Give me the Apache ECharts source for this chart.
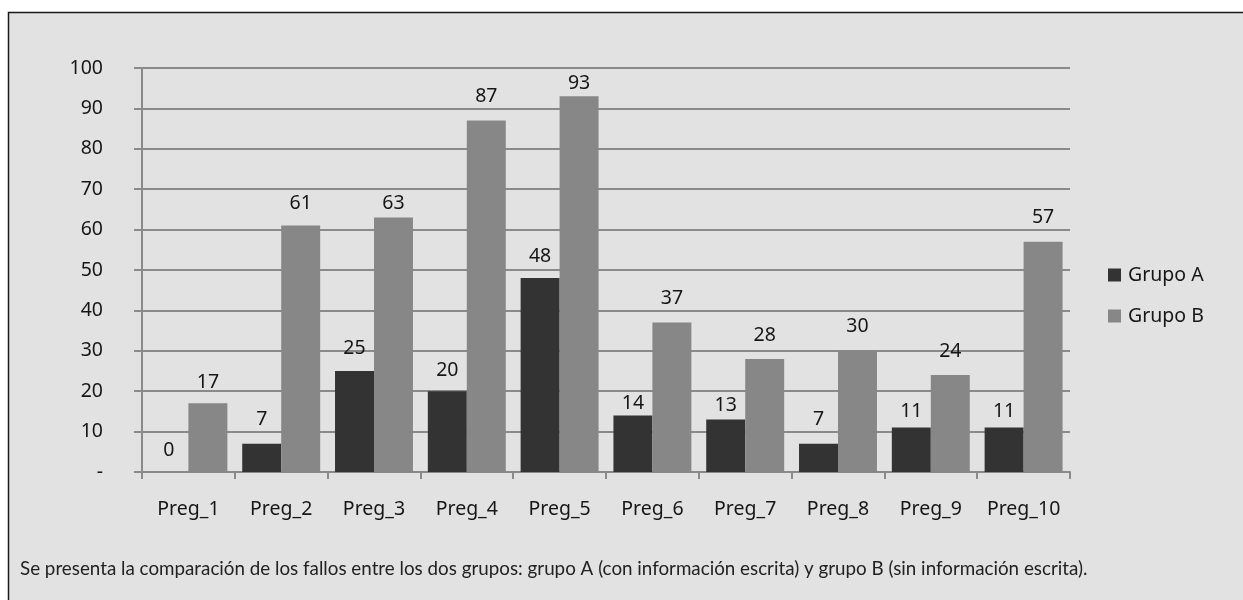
<!DOCTYPE html>
<html>
<head>
<meta charset="utf-8">
<script src="https://cdn.jsdelivr.net/npm/echarts@6/dist/echarts.min.js"></script>
<style>
  html, body { margin: 0; padding: 0; background: #ffffff; }
  #chart { width: 1243px; height: 600px; }
</style>
</head>
<body>
<div id="chart"></div>
<script>
// Preguntas y porcentaje de fallos por grupo
const categories = ['Preg_1', 'Preg_2', 'Preg_3', 'Preg_4', 'Preg_5', 'Preg_6', 'Preg_7', 'Preg_8', 'Preg_9', 'Preg_10'];
const grupoA = [0, 7, 25, 20, 48, 14, 13, 7, 11, 11];
const grupoB = [17, 61, 63, 87, 93, 37, 28, 30, 24, 57];
const yTicks = ['-', '10', '20', '30', '40', '50', '60', '70', '80', '90', '100'];
const caption = 'Se presenta la comparación de los fallos entre los dos grupos: grupo A (con información escrita) y grupo B (sin información escrita).';

// Separación (px) de cada etiqueta sobre su barra
const liftA = [12, 14, 13, 11, 12, 2, 4, 14, 6, 6];
const liftB = [11, 12, 4, 14, 3, 14, 13, 14, 14, 14];

const font = '"Noto Sans", sans-serif';
const textColor = '#161616';
const gridColor = '#8a8a8a';
const fontSize = 19.5;

function withLabels(values, lifts) {
  return values.map((v, i) => ({
    value: v,
    label: { distance: lifts[i] }
  }));
}

const chart = echarts.init(document.getElementById('chart'), null, { renderer: 'canvas' });

chart.setOption({
  animation: false,
  backgroundColor: '#ffffff',
  graphic: [
    {
      type: 'rect', z: -10,
      shape: { x: 8.5, y: 12.5, width: 1260, height: 620 },
      style: { fill: '#e2e2e2', stroke: '#1a1a1a', lineWidth: 1.5 }
    },
    {
      type: 'text', left: 20, top: 559,
      style: { text: caption, fill: '#222222', font: '18.8px Lato, sans-serif' }
    }
  ],
  grid: { left: 142, right: 173, top: 68, bottom: 128, containLabel: false },
  legend: {
    orient: 'vertical',
    left: 1108, top: 265,
    padding: 0,
    itemWidth: 13, itemHeight: 13, itemGap: 21,
    icon: 'rect',
    textStyle: { fontFamily: font, fontSize: fontSize, color: textColor, padding: [0, 0, 0, 2] },
    data: ['Grupo A', 'Grupo B']
  },
  xAxis: {
    type: 'category',
    data: categories,
    axisLine: { lineStyle: { color: gridColor, width: 2 } },
    axisTick: { show: true, interval: 0, length: 7, lineStyle: { color: gridColor, width: 2 } },
    axisLabel: { interval: 0, fontFamily: font, fontSize: fontSize, color: textColor, margin: 27 }
  },
  yAxis: {
    type: 'value',
    min: 0, max: 100, interval: 10,
    axisLine: { show: true, lineStyle: { color: gridColor, width: 2 } },
    axisTick: { show: true, length: 8, lineStyle: { color: gridColor, width: 2 } },
    splitLine: { lineStyle: { color: gridColor, width: 2 } },
    axisLabel: {
      fontFamily: font, fontSize: fontSize, color: textColor, margin: 39,
      formatter: (v) => yTicks[Math.round(v / 10)]
    }
  },
  series: [
    {
      name: 'Grupo A', type: 'bar',
      data: withLabels(grupoA, liftA),
      itemStyle: { color: '#333333' },
      barGap: '0%', barCategoryGap: '16%',
      label: { show: true, position: 'top', fontFamily: font, fontSize: fontSize, color: textColor }
    },
    {
      name: 'Grupo B', type: 'bar',
      data: withLabels(grupoB, liftB),
      itemStyle: { color: '#878787' },
      barGap: '0%', barCategoryGap: '16%',
      label: { show: true, position: 'top', fontFamily: font, fontSize: fontSize, color: textColor }
    }
  ]
});
</script>
</body>
</html>
